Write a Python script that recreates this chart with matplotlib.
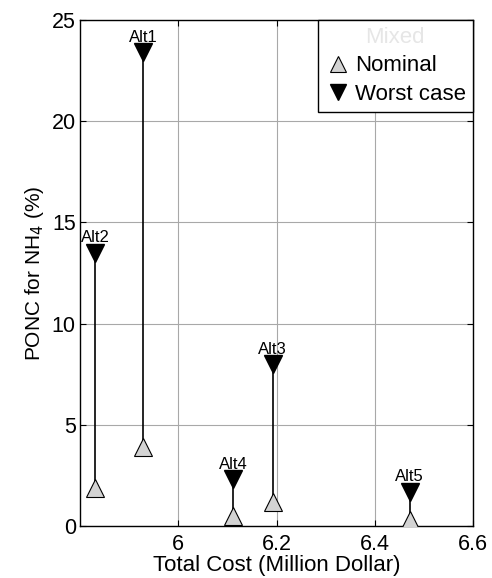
import matplotlib
matplotlib.use("Agg")
import matplotlib.pyplot as plt
import numpy as np

plt.rcParams['font.family'] = ['Liberation Sans', 'DejaVu Sans']

# data
alts = ['Alt1', 'Alt2', 'Alt3', 'Alt4', 'Alt5']
cost = [5.929, 5.831, 6.192, 6.112, 6.471]
nominal = [3.9, 1.9, 1.2, 0.5, 0.3]
worst = [23.4, 13.5, 8.0, 2.3, 1.7]

fig = plt.figure(figsize=(4.92, 5.78), dpi=100)
ax = fig.add_axes([80 / 492, 1 - 526 / 578, 393 / 492, 506 / 578])

for x, lo, hi in zip(cost, nominal, worst):
    ax.plot([x, x], [lo, hi], color='black', lw=1.2, zorder=2)

ax.plot(cost, nominal, ls='none', marker='^', ms=13, mfc='#d3d3d3', mec='black',
        mew=0.8, label='Nominal', zorder=3)
ax.plot(cost, worst, ls='none', marker='v', ms=13, mfc='black', mec='black',
        label='Worst case', zorder=3)

for name, x, hi in zip(alts, cost, worst):
    ax.annotate(name, (x, hi), xytext=(0, 7.5), textcoords='offset points',
                ha='center', va='baseline', fontsize=12, zorder=4)

ax.set_xlim(5.8, 6.6)
ax.set_ylim(0, 25)
ax.set_xticks([6.0, 6.2, 6.4, 6.6])
ax.set_xticklabels(['6', '6.2', '6.4', '6.6'])
ax.set_yticks([0, 5, 10, 15, 20, 25])
ax.grid(True, color='#a8a8a8', lw=0.8)
ax.set_axisbelow(True)
ax.tick_params(direction='in', labelsize=15.5, top=True, right=True, length=4, pad=3)
ax.tick_params(axis='x', pad=6)
for s in ax.spines.values():
    s.set_linewidth(1.0)

ax.set_xlabel('Total Cost (Million Dollar)', fontsize=16)
ax.xaxis.set_label_coords(0.5, -0.058)
ax.set_ylabel('PONC for NH$_4$ (%)', fontsize=15, labelpad=4)

leg = ax.legend(loc='upper right', fontsize=16, title='Mixed', title_fontsize=16,
                frameon=True, fancybox=False, edgecolor='black', handletextpad=0.2,
                handlelength=1.2, borderpad=0.3, labelspacing=0.35, borderaxespad=0,
                markerscale=0.85, framealpha=1)
leg.get_frame().set_linewidth(1.0)
leg.get_title().set_color('#e6e6e6')

fig.savefig('out.png', dpi=100)
